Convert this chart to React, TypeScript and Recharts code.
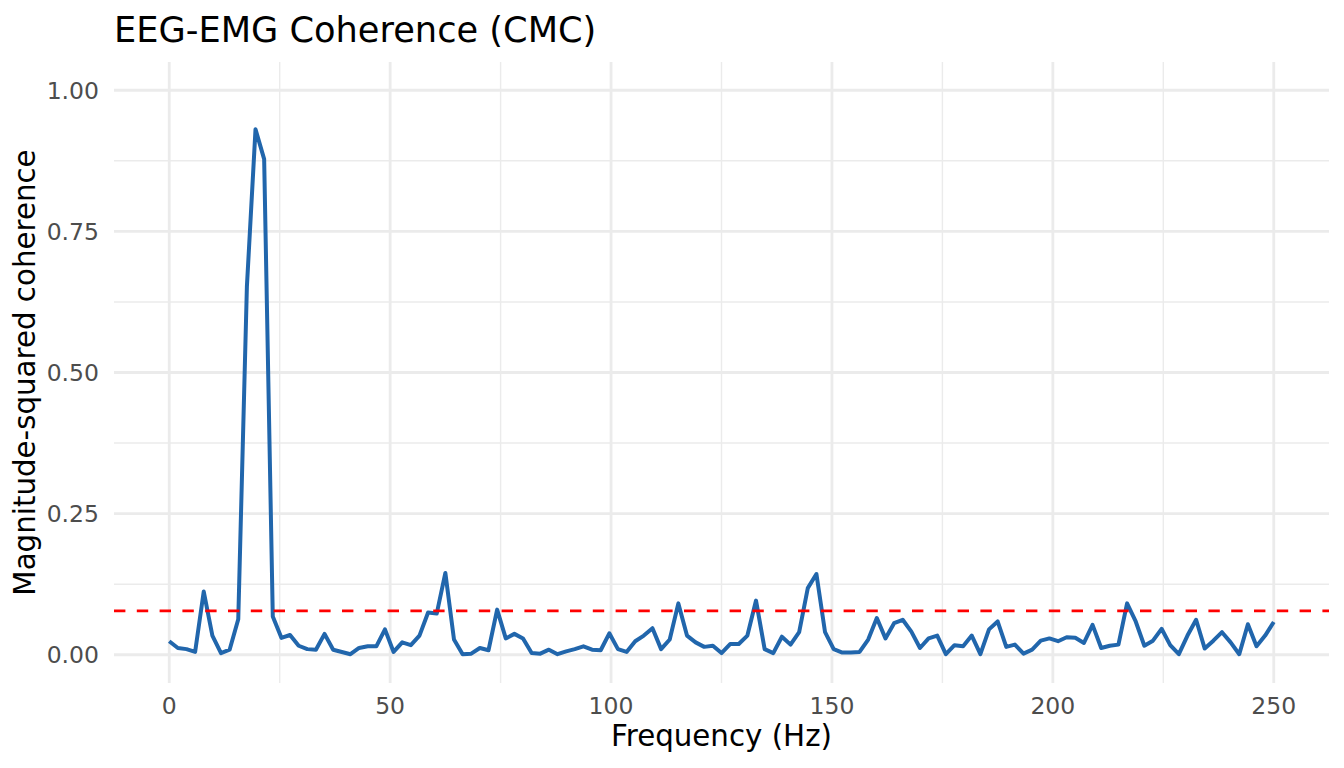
import React from 'react';
import { LineChart, Line, XAxis, YAxis, CartesianGrid, ReferenceLine, Label } from 'recharts';

// spectrum bins: fs = 500 Hz, nfft = 256 -> 129 bins from 0 to 250 Hz
const SAMPLE_RATE = 500;
const NFFT = 256;

// magnitude-squared coherence, one value per bin
const COHERENCE = [
    0.024, 0.012, 0.010, 0.005, 0.112, 0.034, 0.003, 0.009, 0.063, 0.652,
    0.931, 0.878, 0.068, 0.030, 0.035, 0.016, 0.010, 0.009, 0.037, 0.009,
    0.005, 0.001, 0.012, 0.015, 0.015, 0.045, 0.005, 0.022, 0.017, 0.034,
    0.075, 0.073, 0.145, 0.027, 0.001, 0.002, 0.012, 0.008, 0.080, 0.029,
    0.037, 0.029, 0.003, 0.002, 0.009, 0.001, 0.006, 0.010, 0.015, 0.009,
    0.008, 0.038, 0.010, 0.005, 0.024, 0.034, 0.047, 0.010, 0.027, 0.091,
    0.034, 0.022, 0.014, 0.016, 0.003, 0.019, 0.019, 0.034, 0.096, 0.010,
    0.003, 0.032, 0.018, 0.040, 0.118, 0.143, 0.040, 0.010, 0.004, 0.004,
    0.005, 0.027, 0.065, 0.029, 0.056, 0.062, 0.041, 0.012, 0.029, 0.034,
    0.001, 0.017, 0.015, 0.034, 0.001, 0.045, 0.059, 0.014, 0.018, 0.002,
    0.009, 0.025, 0.029, 0.024, 0.031, 0.030, 0.021, 0.053, 0.012, 0.016,
    0.018, 0.091, 0.059, 0.016, 0.025, 0.046, 0.017, 0.001, 0.034, 0.062,
    0.011, 0.025, 0.040, 0.022, 0.001, 0.054, 0.015, 0.034, 0.058,
];

const FREQ = COHERENCE.map((_, i) => (i * SAMPLE_RATE) / NFFT);

const X_TICKS = [0, 50, 100, 150, 200, 250];
const X_MINOR = [25, 75, 125, 175, 225];
const Y_TICKS = [0, 0.25, 0.5, 0.75, 1];
const Y_MINOR = [0.125, 0.375, 0.625, 0.875];

// significance level for coherence
const THRESHOLD = 0.0778;

const data = FREQ.map((f, i) => ({ freq: f, coh: COHERENCE[i] }));

const FONT = '"DejaVu Sans", Verdana, sans-serif';
const GRID = '#EBEBEB';

const App: React.FC = () => {
    return (
        <div style={{ position: 'relative', width: 1336, height: 760, fontFamily: FONT }}>
            <div
                style={{
                    position: 'absolute',
                    left: 106,
                    top: 4,
                    fontSize: 35.2,
                    lineHeight: 1,
                    color: '#000',
                    whiteSpace: 'nowrap',
                }}
            >
                EEG-EMG Coherence (CMC)
            </div>
            <LineChart
                width={1336}
                height={760}
                data={data}
                margin={{ top: 54, right: 15, bottom: 0, left: 0 }}
            >
                <CartesianGrid
                    stroke={GRID}
                    strokeWidth={1.4}
                    horizontalValues={Y_MINOR}
                    verticalValues={X_MINOR}
                />
                <CartesianGrid
                    stroke={GRID}
                    strokeWidth={2.8}
                    horizontalValues={Y_TICKS}
                    verticalValues={X_TICKS}
                />
                <XAxis
                    dataKey="freq"
                    type="number"
                    domain={[-12.5, 262.5]}
                    ticks={X_TICKS}
                    allowDataOverflow
                    axisLine={false}
                    tickLine={false}
                    tickSize={0}
                    tickMargin={14}
                    height={85}
                    tick={{ fill: '#4D4D4D', fontSize: 23.5, fontFamily: FONT }}
                >
                    <Label
                        value="Frequency (Hz)"
                        position="insideBottom"
                        offset={22}
                        style={{ fill: '#000', fontSize: 29.3, fontFamily: FONT }}
                    />
                </XAxis>
                <YAxis
                    type="number"
                    domain={[-0.05, 1.05]}
                    ticks={Y_TICKS}
                    allowDataOverflow
                    axisLine={false}
                    tickLine={false}
                    tickSize={0}
                    tickMargin={15}
                    width={106}
                    tickFormatter={(v: number) => v.toFixed(2)}
                    tick={{ fill: '#4D4D4D', fontSize: 23.5, fontFamily: FONT }}
                >
                    <Label
                        value="Magnitude-squared coherence"
                        position="insideLeft"
                        angle={-90}
                        offset={17}
                        style={{ fill: '#000', fontSize: 29.3, fontFamily: FONT, textAnchor: 'middle' }}
                    />
                </YAxis>
                <Line
                    type="linear"
                    dataKey="coh"
                    stroke="#2166AC"
                    strokeWidth={4}
                    strokeLinejoin="round"
                    dot={false}
                    activeDot={false}
                    isAnimationActive={false}
                />
                <ReferenceLine
                    y={THRESHOLD}
                    stroke="#FF0000"
                    strokeWidth={2.85}
                    strokeDasharray="11.4 11.4"
                />
            </LineChart>
        </div>
    );
};

export default App;
